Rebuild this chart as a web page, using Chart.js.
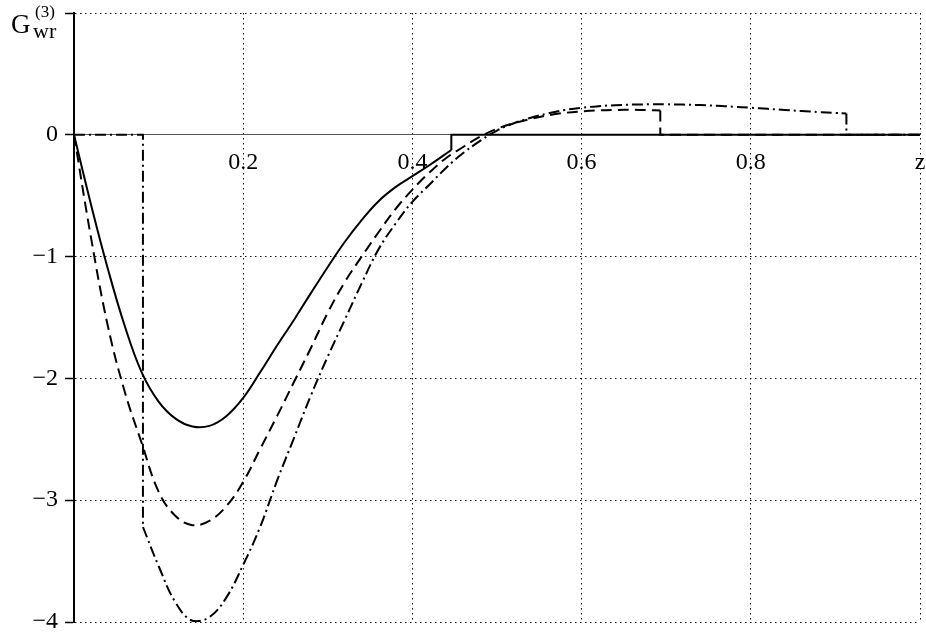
<!DOCTYPE html>
<html>
<head>
<meta charset="utf-8">
<script src="https://cdn.jsdelivr.net/npm/chart.js@4.4.1/dist/chart.umd.min.js"></script>
<style>
  html, body { margin: 0; padding: 0; background: #fff; }
  #wrap { position: relative; width: 926px; height: 637px; }
</style>
</head>
<body>
<div id="wrap"><canvas id="g3"></canvas></div>
<script>
// solid curve (ends at z = 0.446, then drops to 0)
const zSolid = [0, 0.02, 0.04, 0.06, 0.08, 0.1, 0.12, 0.14, 0.16, 0.18, 0.2, 0.22, 0.24,
                0.26, 0.28, 0.3, 0.32, 0.34, 0.36, 0.38, 0.4, 0.42, 0.446];
const gSolid = [0, -0.57, -1.1, -1.57, -1.95, -2.19, -2.33, -2.395, -2.39, -2.31, -2.16, -1.95, -1.73,
                -1.52, -1.3, -1.085, -0.88, -0.7, -0.545, -0.43, -0.34, -0.25, -0.125];

// dashed curve (ends at z = 0.693)
const zDashed = [0, 0.02, 0.04, 0.06, 0.08, 0.1, 0.12, 0.14, 0.16, 0.18, 0.2, 0.22, 0.24, 0.26,
                 0.28, 0.3, 0.32, 0.34, 0.36, 0.38, 0.4, 0.42, 0.44, 0.46, 0.48, 0.5, 0.52, 0.54,
                 0.56, 0.58, 0.6, 0.62, 0.64, 0.66, 0.68, 0.693];
const gDashed = [0, -0.84, -1.57, -2.11, -2.53, -2.93, -3.13, -3.205, -3.17, -3.05, -2.85, -2.58, -2.31, -2.03,
                 -1.75, -1.46, -1.21, -1.0, -0.8, -0.61, -0.45, -0.31, -0.19, -0.1, -0.015, 0.05, 0.095, 0.13,
                 0.16, 0.18, 0.192, 0.2, 0.204, 0.205, 0.203, 0.2];

// dash-dot curve (starts at z = 0.0815, ends at z = 0.913)
const zDashDot = [0.0815, 0.1, 0.12, 0.14, 0.16, 0.18, 0.2, 0.22, 0.24, 0.26, 0.28, 0.3, 0.32,
                  0.34, 0.36, 0.38, 0.4, 0.42, 0.44, 0.46, 0.48, 0.5, 0.52, 0.54, 0.56, 0.58, 0.6,
                  0.62, 0.64, 0.66, 0.68, 0.7, 0.72, 0.74, 0.76, 0.78, 0.8, 0.82, 0.84, 0.86,
                  0.88, 0.9, 0.913];
const gDashDot = [-3.22, -3.54, -3.84, -3.99, -3.96, -3.8, -3.53, -3.22, -2.84, -2.49, -2.14, -1.82, -1.52,
                  -1.22, -0.94, -0.73, -0.55, -0.41, -0.27, -0.15, -0.05, 0.035, 0.095, 0.14, 0.175, 0.203, 0.222,
                  0.235, 0.243, 0.248, 0.25, 0.25, 0.248, 0.244, 0.238, 0.23, 0.222, 0.213, 0.204, 0.195,
                  0.187, 0.179, 0.175];

const zRange = [0, 1];
const gRange = [-4, 1];
const zLabelName = 'z';

function pts(zs, gs) {
    return zs.map((z, i) => ({ x: z, y: gs[i] }));
}
// step from the last curve point down to zero, then along zero to the end
function tail(zs, gs) {
    const n = zs.length - 1;
    return [{ x: zs[n], y: gs[n] }, { x: zs[n], y: 0 }, { x: zRange[1], y: 0 }];
}
function head(zs, gs) {
    return [{ x: zRange[0], y: 0 }, { x: zs[0], y: 0 }, { x: zs[0], y: gs[0] }];
}

const SOLID = [];
const DASHED = [11, 6];
const DASHDOT = [11, 4, 2, 4];

function line(data, dash, smooth) {
    return {
        data: data,
        borderColor: '#000',
        borderWidth: 2,
        borderDash: dash,
        pointRadius: 0,
        fill: false,
        tension: smooth ? 0.4 : 0
    };
}

// label G_wr^(3) in the top left corner
const gTitle = {
    id: 'gTitle',
    afterDraw(chart) {
        const ctx = chart.ctx;
        ctx.save();
        ctx.fillStyle = '#000';
        ctx.textBaseline = 'alphabetic';
        ctx.textAlign = 'left';
        ctx.font = '27px "Liberation Serif"';
        ctx.fillText('G', 11, 33);
        ctx.font = '17px "Liberation Serif"';
        ctx.fillText('(3)', 35, 17);
        ctx.font = '22px "Liberation Serif"';
        ctx.fillText('wr', 33, 38);
        ctx.restore();
    }
};

const tickFont = { family: '"Liberation Serif"', size: 24 };

new Chart(document.getElementById('g3'), {
    type: 'line',
    data: {
        datasets: [
            line(pts(zSolid, gSolid), SOLID, true),
            line(tail(zSolid, gSolid), SOLID, false),
            line(pts(zDashed, gDashed), DASHED, true),
            line(tail(zDashed, gDashed), DASHED, false),
            line(head(zDashDot, gDashDot), DASHDOT, false),
            line(pts(zDashDot, gDashDot), DASHDOT, true),
            line(tail(zDashDot, gDashDot), DASHDOT, false)
        ]
    },
    options: {
        responsive: true,
        maintainAspectRatio: false,
        animation: false,
        layout: { padding: { left: 14, right: 6, top: 13, bottom: 15 } },
        plugins: {
            legend: { display: false },
            tooltip: { enabled: false }
        },
        scales: {
            x: {
                type: 'linear',
                position: { y: 0 },
                min: zRange[0],
                max: zRange[1],
                afterFit: function(scale) {
                    scale.paddingLeft = 0;
                    scale.paddingRight = 0;
                    scale.paddingTop = 0;
                    scale.paddingBottom = 0;
                },
                ticks: {
                    stepSize: 0.2,
                    color: '#000',
                    font: tickFont,
                    padding: 14,
                    maxRotation: 0,
                    callback: function(v) {
                        if (Math.abs(v) < 1e-9) return '';
                        if (Math.abs(v - zRange[1]) < 1e-9) return zLabelName;
                        return Number(v).toFixed(1);
                    }
                },
                grid: { color: '#111', lineWidth: 1, drawTicks: false },
                border: { color: '#555', width: 1, dash: [1.5, 3.5] }
            },
            y: {
                type: 'linear',
                position: 'left',
                min: gRange[0],
                max: gRange[1],
                afterFit: function(scale) {
                    scale.width = 60;
                    scale.paddingTop = 0;
                    scale.paddingBottom = 0;
                },
                ticks: {
                    stepSize: 1,
                    color: '#000',
                    font: tickFont,
                    padding: 7,
                    callback: function(v) {
                        if (v > 0) return '';
                        if (v === 0) return '0';
                        return '\u2212' + Math.abs(v);
                    }
                },
                grid: { color: '#111', lineWidth: 1, tickLength: 9, tickColor: '#000', tickWidth: 1.5, tickBorderDash: [] },
                border: { color: '#000', width: 2, dash: [1.5, 3.5] }
            }
        }
    },
    plugins: [gTitle]
});
</script>
</body>
</html>
